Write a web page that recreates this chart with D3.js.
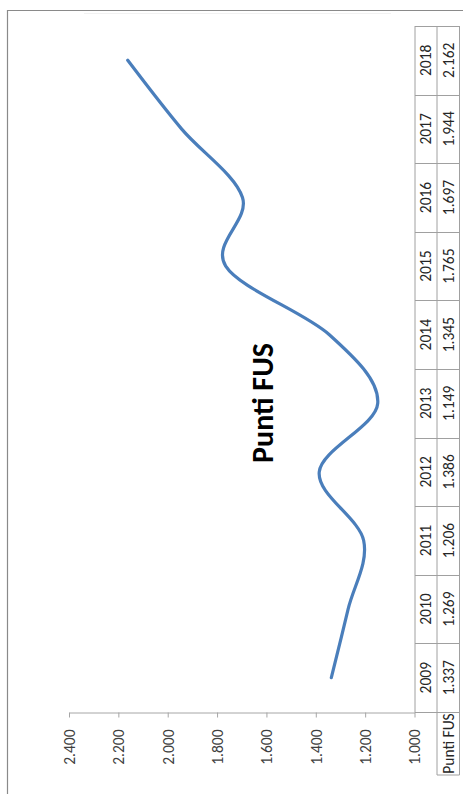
<!DOCTYPE html>
<html><head><meta charset="utf-8">
<script src="https://cdn.jsdelivr.net/npm/d3@7"></script>
<style>html,body{margin:0;padding:0;background:#fff;}svg{display:block;}</style>
</head><body>
<script>
const categories = ["2009","2010","2011","2012","2013","2014","2015","2016","2017","2018"];
const values = [1337,1269,1206,1386,1149,1345,1765,1697,1944,2162];
const tickValues = [1000,1200,1400,1600,1800,2000,2200,2400];
const seriesName = "Punti FUS";
const title = "Punti FUS";

const W = 463, H = 794;
const font = "Calibri, Carlito, 'Open Sans', 'Liberation Sans', sans-serif";
const loc = d3.formatLocale({decimal:",", thousands:".", grouping:[3], currency:["€",""]});
const fmt = loc.format(",.0f");
const fs = "15.5px";

const svg = d3.select("body").append("svg").attr("width", W).attr("height", H);

// outer frame
svg.append("path").attr("d", `M7.5,${H} V10.5 H${W}`).attr("fill","none").attr("stroke","#8a8a8a").attr("stroke-width",1.2);

const x = d3.scaleLinear().domain([1000, 2400]).range([414.5, 69]);
const y = d3.scaleBand().domain(categories).range([712, 26]);

// faint plot-area line at top
svg.append("line").attr("x1",84).attr("x2",391).attr("y1",13.5).attr("y2",13.5).attr("stroke","#f2f2f2");

// value axis
const axisG = svg.append("g").attr("transform","translate(0,712.5)")
  .call(d3.axisBottom(x).tickValues(tickValues).tickSize(5).tickSizeOuter(0).tickFormat(fmt));
axisG.select(".domain").attr("stroke","#a6a6a6");
axisG.selectAll(".tick line").attr("stroke","#a6a6a6");
axisG.selectAll(".tick text")
  .attr("transform","rotate(-90)")
  .attr("text-anchor","end")
  .attr("x",-17).attr("y",0).attr("dy","0.35em")
  .attr("fill","#404040")
  .style("font-family",font).style("font-size",fs);

// data table
const tbl = svg.append("g");
const xL = 415, xM = 437, xR = 459.5;
const lineC = "#a0a0a0";
tbl.append("line").attr("x1",xL).attr("x2",xL).attr("y1",y.range()[1]).attr("y2",712.5).attr("stroke",lineC);
tbl.append("line").attr("x1",xM).attr("x2",xM).attr("y1",y.range()[1]).attr("y2",775).attr("stroke",lineC);
tbl.append("line").attr("x1",xR).attr("x2",xR).attr("y1",y.range()[1]).attr("y2",775).attr("stroke",lineC);
const bounds = categories.map(c => y(c)).concat([712]);
tbl.selectAll(".hb").data(bounds).join("line")
  .attr("x1",xL).attr("x2",xR).attr("y1",d=>Math.round(d)+0.5).attr("y2",d=>Math.round(d)+0.5).attr("stroke",lineC);
tbl.append("line").attr("x1",xM).attr("x2",xR).attr("y1",775).attr("y2",775).attr("stroke",lineC);

tbl.selectAll(".yr").data(categories).join("text")
  .attr("transform", d => `translate(${(xL+xM)/2},${y(d)+y.bandwidth()/2}) rotate(-90)`)
  .attr("text-anchor","middle").attr("dy","0.35em")
  .attr("fill","#262626").style("font-family",font).style("font-size",fs)
  .text(d=>d);
tbl.selectAll(".vl").data(values).join("text")
  .attr("transform", (d,i) => `translate(${(xM+xR)/2},${y(categories[i])+y.bandwidth()/2}) rotate(-90)`)
  .attr("text-anchor","middle").attr("dy","0.35em")
  .attr("fill","#262626").style("font-family",font).style("font-size",fs)
  .text(d=>fmt(d));
tbl.append("text")
  .attr("transform", `translate(${(xM+xR)/2},${(712+775)/2}) rotate(-90)`)
  .attr("text-anchor","middle").attr("dy","0.35em")
  .attr("fill","#262626").style("font-family",font).style("font-size",fs)
  .text(seriesName);

// line
const line = d3.line()
  .x(d => x(d.v))
  .y(d => y(d.c) + y.bandwidth()/2)
  .curve(d3.curveCardinal.tension(0));
svg.append("path")
  .datum(categories.map((c,i)=>({c, v: values[i]})))
  .attr("d", line)
  .attr("fill","none").attr("stroke","#4a7ebb").attr("stroke-width",3.2).attr("stroke-linecap","round");

// title
svg.append("text")
  .attr("transform","translate(262,403) rotate(-90)")
  .attr("text-anchor","middle").attr("dy","0.35em")
  .attr("fill","#000").style("font-family",font).style("font-size","30px").style("font-weight","bold")
  .text(title);
</script>
</body></html>
